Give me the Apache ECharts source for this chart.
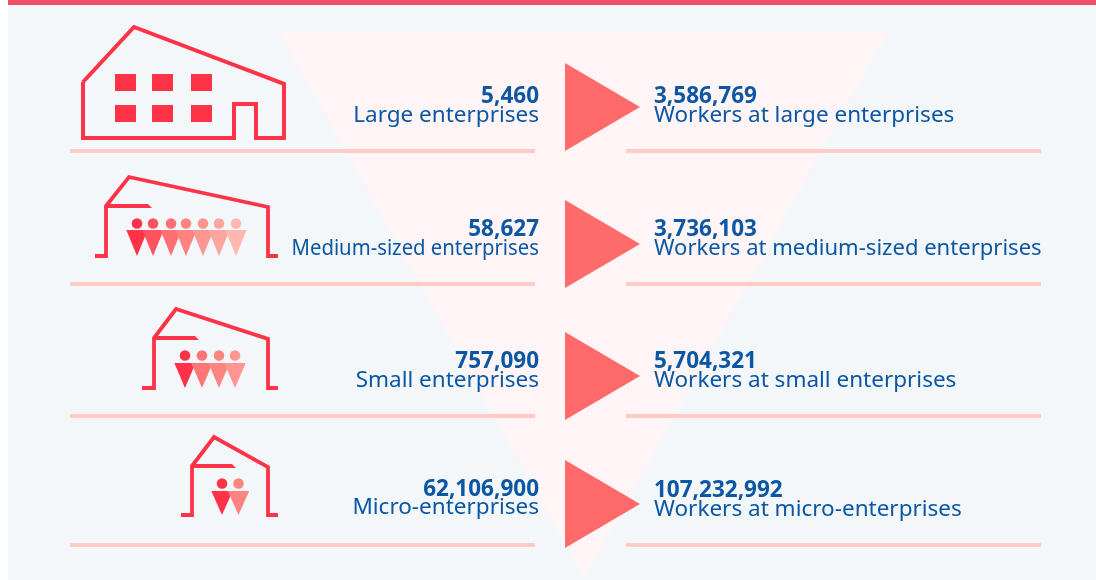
<!DOCTYPE html>
<html><head><meta charset="utf-8">
<style>html,body{margin:0;padding:0;background:#fff}#c{width:1096px;height:580px}</style>
<script src="https://cdn.jsdelivr.net/npm/echarts@6/dist/echarts.min.js"></script>
</head><body><div id="c"></div>
<script>
const categories = ['Large enterprises','Medium-sized enterprises','Small enterprises','Micro-enterprises'];
const enterpriseCounts = [5460, 58627, 757090, 62106900];
const workerLabels = ['Workers at large enterprises','Workers at medium-sized enterprises','Workers at small enterprises','Workers at micro-enterprises'];
const workerCounts = [3586769, 3736103, 5704321, 107232992];

const fmt = n => n.toLocaleString('en-US');
const RED = '#ff3347', BLUE = '#0b57a4', RULE = '#ffcbc6', ARROW = '#ff6b6b';
const FONT = '"Noto Sans", sans-serif';
const ruleY = [151, 284, 416, 545];
const arrowY = [107, 244, 376, 504];
const numY = [97, 230, 362, 490];
const labelY = [116, 249, 381, 508];
const rightNumY = [97, 230, 362, 491];
const rightLabelY = [116, 249, 381, 510];
const leftSqueeze = [1, 0.902, 1, 1];
const rightSqueeze = [1, 0.98, 1, 1];

const poly = (pts, fill) => ({type:'polygon', shape:{points:pts}, style:{fill}});
const line = (pts, w) => ({type:'polyline', shape:{points:pts}, style:{stroke:RED, lineWidth:w, fill:null, lineJoin:'miter'}});
const rect = (x,y,w,h,fill) => ({type:'rect', shape:{x,y,width:w,height:h}, style:{fill}});
const shelf = (x0,x1,y) => poly([[x0,y-2],[x1-4,y-2],[x1,y+2],[x0,y+2]],RED);
const person = (cx, headY, r, top, bot, hw, fill) => [
  {type:'circle', shape:{cx, cy:headY, r}, style:{fill}},
  poly([[cx-hw,top],[cx+hw,top],[cx,bot]], fill)
];
const crowd = (xs, fills, headY, r, top, bot, hw) =>
  xs.map((x,i)=>person(x,headY,r,top,bot,hw,fills[i])).flat();

const icons = [
  () => {
    const c = [line([[83,82],[134,27],[284,84],[284,138],[256,138],[256,104],[234,104],[234,138],[83,138],[83,82]],4)];
    for (const y of [74,105]) for (const x of [115,152,191]) c.push(rect(x,y,21,17,RED));
    return c;
  },
  () => [
    line([[95,256],[106,256],[106,206],[129,177],[268,207],[268,256],[278,256]],3.8),
    shelf(106,152,206),
    ...crowd([137,153,171,186,203,219,236],
      ['#ff3347','#ff535f','#ff6f75','#ff8380','#ff9591','#ffa5a0','#ffb7b1'],223.5,5.3,230,256,10.7)
  ],
  () => [
    line([[142,388],[154,388],[154,338],[176,309],[268,339],[268,388],[278,388]],3.8),
    shelf(154,199,338),
    ...crowd([185,202,219,235],['#ff3347','#ff7676','#ff8583','#ff9693'],355.5,5.3,363,388,10.7)
  ],
  () => [
    line([[181,515],[192,515],[192,466],[214,437],[268,467],[268,515],[278,515]],3.8),
    shelf(192,236,466),
    ...crowd([222,238.5],['#ff3347','#ff8380'],483.5,5.3,491,515,10.7)
  ]
];

const text = (x,y,str,bold,align,sx=1) => ({type:'text', x, y, scaleX:sx, style:{x:0,y:0,text:str,fill:BLUE,font:(bold?'700 ':'400 ')+'22.5px '+FONT,align,verticalAlign:'middle'}});

const option = {
  animation:false,
  backgroundColor:'#fff',
  grid:{left:0,right:0,top:0,bottom:0},
  xAxis:{type:'value',min:0,max:1096,show:false},
  yAxis:{type:'value',min:0,max:580,inverse:true,show:false},
  series:[
    {type:'custom', coordinateSystem:'cartesian2d', silent:true, clip:false, data:[[0,0]],
     renderItem(){ return {type:'group',children:[
       rect(8,0,1088,580,'#f3f7fa'),
       rect(8,0,1088,5,'#ef4f66'),
       poly([[279,32],[888,32],[584,578]],'#fff5f6')
     ]};}},
    {type:'custom', coordinateSystem:'cartesian2d', silent:true, clip:false,
     data:categories.map((c,i)=>[i,enterpriseCounts[i],workerCounts[i]]),
     renderItem(params,api){
       const i = api.value(0);
       return {type:'group',children:[
         rect(70,ruleY[i]-2,465,4,RULE),
         rect(626,ruleY[i]-2,415,4,RULE),
         poly([[565,arrowY[i]-44],[640,arrowY[i]],[565,arrowY[i]+44]],ARROW),
         ...icons[i](),
         text(539,numY[i],fmt(api.value(1)),true,'right'),
         text(539,labelY[i],categories[i],false,'right',leftSqueeze[i]),
         text(654,rightNumY[i],fmt(api.value(2)),true,'left'),
         text(654,rightLabelY[i],workerLabels[i],false,'left',rightSqueeze[i])
       ]};
     }}
  ]
};
echarts.init(document.getElementById('c'),null,{renderer:'canvas'}).setOption(option);
</script></body></html>
